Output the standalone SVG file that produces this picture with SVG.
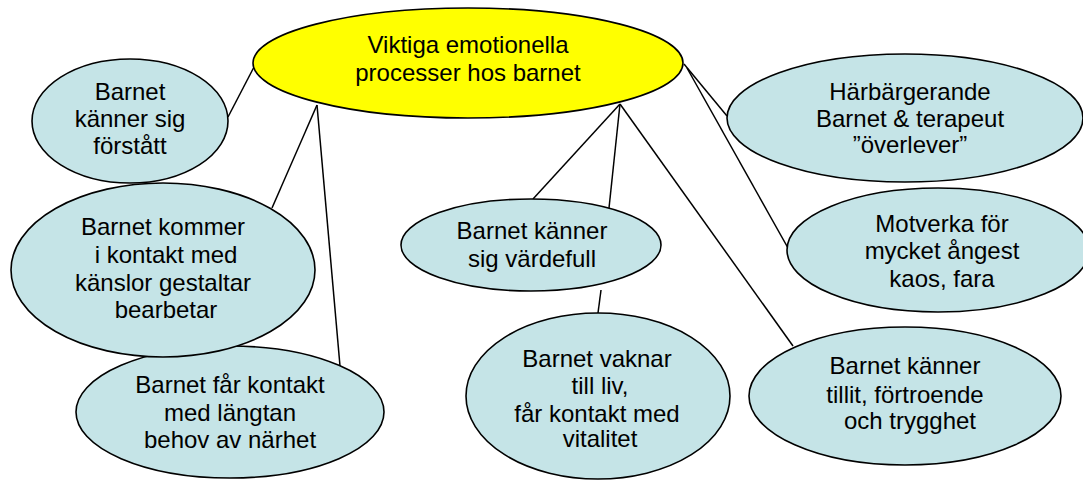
<svg xmlns="http://www.w3.org/2000/svg" width="1083" height="481" viewBox="0 0 1083 481">
<style>
.n{fill:#C5E4E7;stroke:#000;stroke-width:1.6}
.c{fill:#FFFF00;stroke:#000;stroke-width:1.6}
.l{stroke:#000;stroke-width:1.5;fill:none}
text{font-family:"Liberation Sans",Arial,sans-serif;font-size:24px;fill:#000;text-anchor:middle}
</style>
<rect width="1083" height="481" fill="#fff"/>
<g id="connectors">
<line class="l" x1="254" y1="67" x2="228" y2="117"/>
<line class="l" x1="317" y1="105" x2="272" y2="208"/>
<line class="l" x1="317" y1="105" x2="340" y2="366"/>
<line class="l" x1="620" y1="104" x2="533" y2="199"/>
<line class="l" x1="620" y1="104" x2="609" y2="208"/>
<line class="l" x1="620" y1="104" x2="793" y2="346"/>
<line class="l" x1="601" y1="290" x2="598" y2="313"/>
<line class="l" x1="684" y1="64" x2="727" y2="116"/>
<line class="l" x1="687" y1="68" x2="788" y2="248"/>
</g>
<g id="center">
<ellipse class="c" cx="468" cy="63" rx="215" ry="55"/>
<text x="468" y="53">Viktiga emotionella</text>
<text x="468" y="81">processer hos barnet</text>
</g>
<g id="n-forstatt">
<ellipse class="n" cx="130" cy="121" rx="98" ry="62"/>
<text x="130" y="100">Barnet</text>
<text x="130" y="127">känner sig</text>
<text x="130" y="154">förstått</text>
</g>
<g id="n-langtan">
<ellipse class="n" cx="230" cy="412" rx="154" ry="66"/>
<text x="230" y="393">Barnet får kontakt</text>
<text x="230" y="421">med längtan</text>
<text x="230" y="448">behov av närhet</text>
</g>
<g id="n-kanslor">
<ellipse class="n" cx="163" cy="270" rx="152" ry="87"/>
<text x="163" y="235">Barnet kommer</text>
<text x="166" y="263">i kontakt med</text>
<text x="163" y="291">känslor gestaltar</text>
<text x="166" y="318">bearbetar</text>
</g>
<g id="n-vardefull">
<ellipse class="n" cx="531" cy="245" rx="130" ry="46"/>
<text x="532" y="239">Barnet känner</text>
<text x="532" y="267">sig värdefull</text>
</g>
<g id="n-vaknar">
<ellipse class="n" cx="598" cy="396" rx="132" ry="83"/>
<text x="597" y="367">Barnet vaknar</text>
<text x="600" y="394">till liv,</text>
<text x="597" y="422">får kontakt med</text>
<text x="600" y="447">vitalitet</text>
</g>
<g id="n-harbargerande">
<ellipse class="n" cx="905" cy="118" rx="178" ry="64"/>
<text x="910" y="100">Härbärgerande</text>
<text x="910" y="127">Barnet &amp; terapeut</text>
<text x="910" y="153">”överlever”</text>
</g>
<g id="n-motverka">
<ellipse class="n" cx="938" cy="250" rx="151" ry="62"/>
<text x="942" y="232">Motverka för</text>
<text x="942" y="259">mycket ångest</text>
<text x="942" y="287">kaos, fara</text>
</g>
<g id="n-tillit">
<ellipse class="n" cx="905" cy="396" rx="156" ry="69"/>
<text x="905" y="374">Barnet känner</text>
<text x="905" y="403">tillit, förtroende</text>
<text x="910" y="429">och trygghet</text>
</g>
</svg>
